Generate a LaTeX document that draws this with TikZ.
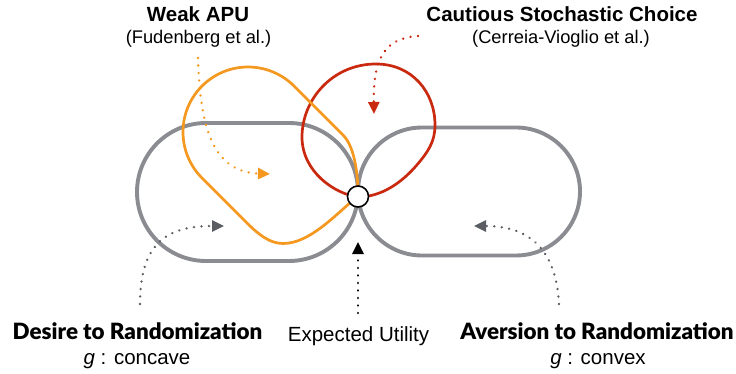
\documentclass[tikz,border=0pt]{standalone}
\usepackage{fontspec}
\setmainfont{Liberation Sans}
\newfontfamily\labfont{Lato}[BoldFont={Lato Black}]
\usetikzlibrary{arrows.meta}
\definecolor{shapegray}{RGB}{138,140,145}
\definecolor{arrowgray}{RGB}{90,94,99}
\definecolor{apuorange}{RGB}{244,152,31}
\definecolor{cscred}{RGB}{201,41,15}
\tikzset{
  shapeline/.style={line width=3.9pt, draw=shapegray, line join=round},
  lobe/.style={line width=2.7pt, line join=round},
  dotarrow/.style={line width=2.6pt, line cap=round, dash pattern=on 0.01pt off 7.5pt,
    -{Triangle[length=12pt,width=11pt]}},
  title/.style={font=\bfseries\fontsize{20.5}{24}\selectfont, anchor=base, inner sep=0pt},
  subtitle/.style={font=\fontsize{18.3}{22}\selectfont, anchor=base, inner sep=0pt},
  blabel/.style={font=\labfont\bfseries\fontsize{22.4}{26}\selectfont, anchor=base, inner sep=0pt},
  plabel/.style={font=\fontsize{20.5}{24}\selectfont, anchor=base, inner sep=0pt}
}
\begin{document}
\begin{tikzpicture}[x=1pt,y=-1pt]
\useasboundingbox (0,0) rectangle (736,374);
% gray stadiums
\draw[shapeline] (206,123) -- (289,123) .. controls (327.1,123) and (358,153.9) .. (358,192)
  .. controls (358,230.1) and (327.1,261) .. (289,261) -- (206,261)
  .. controls (167.9,261) and (137,230.1) .. (137,192)
  .. controls (137,153.9) and (167.9,123) .. cycle;
\draw[shapeline] (422,127.5) -- (516,127.5) .. controls (551.35,127.5) and (580,156.15) .. (580,191.5)
  .. controls (580,226.85) and (551.35,255.5) .. (516,255.5) -- (422,255.5)
  .. controls (386.65,255.5) and (358,226.85) .. (358,191.5)
  .. controls (358,156.15) and (386.65,127.5) .. cycle;
% red lobe
\draw[lobe, draw=cscred] (358,197) .. controls (335,194) and (302,172) .. (302,137)
  .. controls (302,100) and (332,64) .. (376,64)
  .. controls (412,64) and (435,92) .. (435,125)
  .. controls (435,142) and (428,152) .. (416,166)
  .. controls (402,182) and (382,197) .. (358,197) -- cycle;
% orange lobe
\draw[lobe, draw=apuorange] (202,178) -- (247,223) .. controls (259,235) and (270,243.5) .. (283,243.5)
  .. controls (310,243.5) and (335,215) .. (358,196)
  .. controls (358,168) and (353,145) .. (343,135) -- (294,86)
  .. controls (281.8,73.8) and (265.2,67) .. (248,67)
  .. controls (212.1,67) and (183,96.1) .. (183,132)
  .. controls (183,149.2) and (189.8,165.8) .. cycle;
% expected utility point
\node[circle, draw=black, fill=white, line width=1.6pt, minimum size=21pt, inner sep=0pt] (eu) at (358,196.5) {};
% labels
\node[title] (wapu) at (198,22) {Weak APU};
\node[subtitle] (fud) at (198.5,44) {(Fudenberg et al.)};
\node[title] (csc) at (562,22) {Cautious Stochastic Choice};
\node[subtitle] (cer) at (561,44) {(Cerreia-Vioglio et al.)};
\node[blabel] (desire) at (137.5,339) {Desire to Randomization};
\node[plabel] (concave) at (137,364) {\textit{g} : concave};
\node[plabel] (eulab) at (358.5,341) {Expected Utility};
\node[blabel] (aversion) at (597,339) {Aversion to Randomization};
\node[plabel] (convex) at (598,364) {\textit{g} : convex};
% arrow anchors
\coordinate (oS) at (198,58);  \coordinate (oE) at (270,174);
\coordinate (rS) at (418,36);  \coordinate (rE) at (374,114);
\coordinate (lS) at (140,304); \coordinate (lE) at (224,226);
\coordinate (gS) at (559,304); \coordinate (gE) at (474,226);
\coordinate (eS) at (358,313); \coordinate (eE) at (358,242);
\draw[dotarrow, draw=apuorange] (oS) .. controls (200,132) and (215,172) .. (oE);
\draw[dotarrow, draw=cscred] (rS) .. controls (385,38) and (373,58) .. (rE);
\draw[dotarrow, draw=arrowgray] (lS) .. controls (140,240) and (170,226) .. (lE);
\draw[dotarrow, draw=arrowgray] (gS) .. controls (556,245) and (525,226) .. (gE);
\draw[dotarrow, draw=black] (eS) -- (eE);
\end{tikzpicture}
\end{document}
